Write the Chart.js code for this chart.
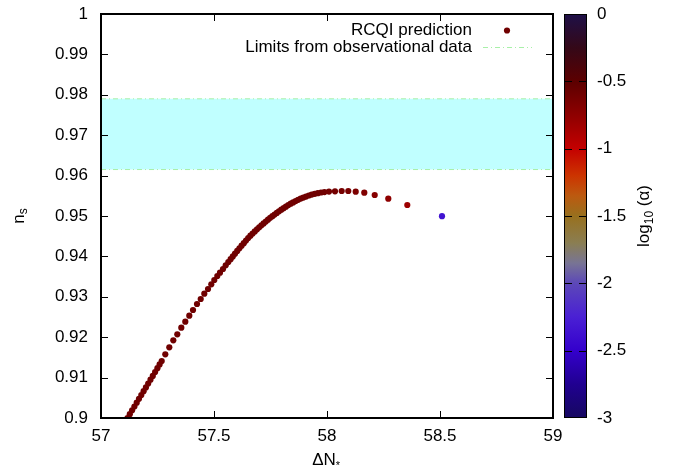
<!DOCTYPE html>
<html lang="en">
<head>
<meta charset="UTF-8">
<title>RCQI prediction: n_s vs Delta N</title>
<script src="https://cdn.jsdelivr.net/npm/chart.js"></script>
<style>
  html, body { margin: 0; padding: 0; background: #ffffff; }
  #wrap { width: 675px; height: 467px; }
</style>
</head>
<body>
<div id="wrap"><canvas id="nsChart" width="675" height="467"></canvas></div>
<script>
// Delta N_* (x), n_s (y), log10(alpha) (colour)
const deltaN = [
  57.1173, 57.1274, 57.1376, 57.1478, 57.1580, 57.1681, 57.1783, 57.1885, 57.1987, 57.2088,
  57.2190, 57.2292, 57.2394, 57.2496, 57.2593, 57.2686, 57.2845, 57.3022, 57.3199, 57.3376,
  57.3553, 57.3730, 57.3907, 57.4071, 57.4248, 57.4412, 57.4571, 57.4735, 57.4881, 57.5013,
  57.5146, 57.5265, 57.5398, 57.5518, 57.5633, 57.5735, 57.5832, 57.5929, 57.6027, 57.6124,
  57.6221, 57.6319, 57.6416, 57.6513, 57.6611, 57.6708, 57.6805, 57.6903, 57.7000, 57.7097,
  57.7195, 57.7292, 57.7389, 57.7487, 57.7584, 57.7681, 57.7779, 57.7876, 57.7978, 57.8080,
  57.8181, 57.8288, 57.8394, 57.8500, 57.8611, 57.8721, 57.8836, 57.8951, 57.9071, 57.9195,
  57.9323, 57.9456, 57.9593, 57.9735, 57.9885, 58.0088, 58.0354, 58.0650, 58.0942, 58.1270,
  58.1650, 58.2111, 58.2712, 58.3553, 58.5088
];
const nsValues = [
  0.90000, 0.90094, 0.90190, 0.90285, 0.90379, 0.90475, 0.90569, 0.90663, 0.90757, 0.90854,
  0.90948, 0.91042, 0.91136, 0.91233, 0.91327, 0.91411, 0.91577, 0.91750, 0.91923, 0.92072,
  0.92235, 0.92384, 0.92532, 0.92673, 0.92822, 0.92946, 0.93077, 0.93193, 0.93309, 0.93416,
  0.93515, 0.93597, 0.93688, 0.93780, 0.93861, 0.93932, 0.94000, 0.94067, 0.94135, 0.94202,
  0.94266, 0.94328, 0.94391, 0.94454, 0.94514, 0.94566, 0.94618, 0.94670, 0.94721, 0.94770,
  0.94816, 0.94862, 0.94908, 0.94954, 0.94995, 0.95036, 0.95077, 0.95118, 0.95157, 0.95194,
  0.95231, 0.95270, 0.95306, 0.95337, 0.95369, 0.95401, 0.95432, 0.95457, 0.95482, 0.95508,
  0.95530, 0.95548, 0.95566, 0.95582, 0.95591, 0.95604, 0.95611, 0.95619, 0.95619, 0.95601,
  0.95577, 0.95520, 0.95428, 0.95272, 0.94995
];
const logAlpha = [
  -0.6, -0.6, -0.6, -0.6, -0.6, -0.6, -0.6, -0.6, -0.6, -0.6,
  -0.6, -0.6, -0.6, -0.6, -0.6, -0.6, -0.6, -0.6, -0.6, -0.6,
  -0.6, -0.6, -0.6, -0.6, -0.6, -0.6, -0.6, -0.6, -0.6, -0.6,
  -0.6, -0.6, -0.6, -0.6, -0.6, -0.6, -0.6, -0.6, -0.6, -0.6,
  -0.6, -0.6, -0.6, -0.6, -0.6, -0.6, -0.6, -0.6, -0.6, -0.6,
  -0.6, -0.6, -0.6, -0.6, -0.6, -0.6, -0.6, -0.6, -0.6, -0.6,
  -0.6, -0.6, -0.6, -0.6, -0.6, -0.6, -0.6, -0.6, -0.6, -0.6,
  -0.6, -0.6, -0.6, -0.6, -0.6, -0.61, -0.62, -0.63, -0.64, -0.66,
  -0.68, -0.71, -0.75, -0.82, -2.35
];
// observational band on n_s
const nsLimits = [0.9615, 0.9790];
const xRange = [57, 59];
const yRange = [0.9, 1.0];
const cbRange = [-3, 0];

// colour palette of the colour box (value -> colour)
const palette = [
  [0, '#1e1048'], [-0.25, '#340818'], [-0.5, '#5c0000'], [-0.75, '#8e0000'],
  [-1.0, '#c40000'], [-1.2, '#cc3400'], [-1.35, '#bc5a10'], [-1.5, '#98701e'],
  [-1.7, '#8a7e52'], [-1.85, '#787494'], [-2.0, '#5c48b8'], [-2.25, '#4a20d4'],
  [-2.5, '#3400cc'], [-2.75, '#200090'], [-3.0, '#160860']
];

function hexRgb(h) {
  return [parseInt(h.substr(1, 2), 16), parseInt(h.substr(3, 2), 16), parseInt(h.substr(5, 2), 16)];
}
function paletteColor(v) {
  for (let i = 0; i < palette.length - 1; i++) {
    const [v0, c0] = palette[i], [v1, c1] = palette[i + 1];
    if (v <= v0 && v >= v1) {
      const t = (v0 - v) / (v0 - v1);
      const a = hexRgb(c0), b = hexRgb(c1);
      return 'rgb(' + a.map((x, k) => Math.round(x + (b[k] - x) * t)).join(',') + ')';
    }
  }
  return palette[palette.length - 1][1];
}

const FONT = 'Liberation Sans, Arial, sans-serif';
const FS = 17;
const limitColor = '#a8f0a8';
const bandColor = '#c0ffff';

const points = deltaN.map((x, i) => ({ x: x, y: nsValues[i] }));

// no extra room for half-height tick labels: plot box is fixed
function noPad(s) {
  s.paddingTop = 0; s.paddingBottom = 0; s.paddingLeft = 0; s.paddingRight = 0;
}

const decor = {
  id: 'decor',
  afterDraw(chart) {
    const { ctx, chartArea: a, scales } = chart;
    ctx.save();
    // plot frame
    ctx.strokeStyle = '#000';
    ctx.lineWidth = 2;
    ctx.strokeRect(a.left, a.top, a.right - a.left, a.bottom - a.top);
    // inward ticks, all four sides
    ctx.lineWidth = 1;
    ctx.beginPath();
    scales.x.ticks.forEach(t => {
      const px = Math.round(scales.x.getPixelForValue(t.value)) + 0.5;
      ctx.moveTo(px, a.bottom); ctx.lineTo(px, a.bottom - 7);
      ctx.moveTo(px, a.top); ctx.lineTo(px, a.top + 7);
    });
    scales.y.ticks.forEach(t => {
      const py = Math.round(scales.y.getPixelForValue(t.value)) + 0.5;
      ctx.moveTo(a.left, py); ctx.lineTo(a.left + 7, py);
      ctx.moveTo(a.right, py); ctx.lineTo(a.right - 7, py);
    });
    ctx.stroke();

    // colour box
    const cb = scales.cb;
    const top = cb.getPixelForValue(cbRange[1]);
    const bot = cb.getPixelForValue(cbRange[0]);
    const bx = a.right + 11, bw = 23;
    const g = ctx.createLinearGradient(0, top, 0, bot);
    palette.forEach(([v, c]) => g.addColorStop((cbRange[1] - v) / (cbRange[1] - cbRange[0]), c));
    ctx.fillStyle = g;
    ctx.fillRect(bx, top, bw, bot - top);
    ctx.strokeStyle = '#000';
    ctx.lineWidth = 1;
    ctx.strokeRect(bx + 0.5, top + 0.5, bw - 1, bot - top - 1);
    ctx.beginPath();
    cb.ticks.forEach(t => {
      if (t.value <= cbRange[0] || t.value >= cbRange[1]) return;
      const py = Math.round(cb.getPixelForValue(t.value)) + 0.5;
      ctx.moveTo(bx, py); ctx.lineTo(bx + 8, py);
      ctx.moveTo(bx + bw, py); ctx.lineTo(bx + bw - 8, py);
    });
    ctx.stroke();

    // legend
    ctx.fillStyle = '#000';
    ctx.font = FS + 'px ' + FONT;
    ctx.textAlign = 'right';
    ctx.textBaseline = 'middle';
    ctx.fillText('RCQI prediction', 472, 30);
    ctx.fillText('Limits from observational data', 472, 47);
    ctx.fillStyle = paletteColor(-0.6);
    ctx.beginPath();
    ctx.arc(507, 30.5, 3.1, 0, Math.PI * 2);
    ctx.fill();
    ctx.strokeStyle = limitColor;
    ctx.setLineDash([5, 3, 1, 3]);
    ctx.beginPath();
    ctx.moveTo(483, 47.5); ctx.lineTo(532, 47.5);
    ctx.stroke();
    ctx.setLineDash([]);

    // axis titles
    ctx.fillStyle = '#000';
    ctx.textBaseline = 'alphabetic';
    ctx.textAlign = 'left';
    // x title: Delta N_*
    ctx.font = FS + 'px ' + FONT;
    const w1 = ctx.measureText('\u0394N').width;
    const xt = 327 - (w1 + 6) / 2;
    ctx.fillText('\u0394N', xt, 465);
    ctx.font = '11px ' + FONT;
    ctx.fillText('*', xt + w1, 469);

    // y title: n_s
    ctx.save();
    ctx.translate(24, 216);
    ctx.rotate(-Math.PI / 2);
    ctx.font = FS + 'px ' + FONT;
    const wn = ctx.measureText('n').width;
    ctx.fillText('n', -(wn + 6) / 2, 0);
    ctx.font = '12px ' + FONT;
    ctx.fillText('s', -(wn + 6) / 2 + wn, 3);
    ctx.restore();

    // colour box title: log10 (alpha)
    ctx.save();
    ctx.translate(649, 216);
    ctx.rotate(-Math.PI / 2);
    ctx.font = FS + 'px ' + FONT;
    const wl = ctx.measureText('log').width;
    const wr = ctx.measureText(' (\u03b1)').width;
    ctx.font = '12px ' + FONT;
    const ws = ctx.measureText('10').width;
    let tx = -(wl + ws + wr) / 2;
    ctx.font = FS + 'px ' + FONT;
    ctx.fillText('log', tx, 0);
    ctx.font = '12px ' + FONT;
    ctx.fillText('10', tx + wl, 4);
    ctx.font = FS + 'px ' + FONT;
    ctx.fillText(' (\u03b1)', tx + wl + ws, 0);
    ctx.restore();

    ctx.restore();
  }
};

Chart.defaults.font.family = FONT;
Chart.defaults.font.size = FS;
Chart.defaults.color = '#000';

new Chart(document.getElementById('nsChart'), {
  type: 'scatter',
  data: {
    datasets: [
      {
        label: 'RCQI prediction',
        data: points,
        pointRadius: 3.1,
        pointBorderWidth: 0,
        pointBackgroundColor: logAlpha.map(paletteColor),
        showLine: false
      },
      {
        label: 'upper limit',
        type: 'line',
        data: [{ x: xRange[0], y: nsLimits[1] }, { x: xRange[1], y: nsLimits[1] }],
        borderColor: limitColor,
        borderWidth: 1,
        borderDash: [5, 3, 1, 3],
        pointRadius: 0,
        fill: false
      },
      {
        label: 'Limits from observational data',
        type: 'line',
        data: [{ x: xRange[0], y: nsLimits[0] }, { x: xRange[1], y: nsLimits[0] }],
        borderColor: limitColor,
        borderWidth: 1,
        borderDash: [5, 3, 1, 3],
        backgroundColor: bandColor,
        pointRadius: 0,
        fill: '-1'
      }
    ]
  },
  options: {
    responsive: false,
    animation: false,
    events: [],
    layout: { padding: { top: 14, left: 0, right: 0, bottom: 0 } },
    plugins: { legend: { display: false }, tooltip: { enabled: false } },
    scales: {
      x: {
        type: 'linear',
        min: xRange[0], max: xRange[1],
        grid: { display: false, drawTicks: false },
        border: { display: false },
        ticks: { stepSize: 0.5, padding: 8, maxRotation: 0, autoSkip: false,
                 callback: v => String(+v.toFixed(1)) },
        afterFit: s => { s.height = 49; noPad(s); }
      },
      y: {
        type: 'linear',
        position: 'left',
        min: yRange[0], max: yRange[1],
        grid: { display: false, drawTicks: false },
        border: { display: false },
        ticks: { stepSize: 0.01, padding: 13, autoSkip: false,
                 callback: v => String(+v.toFixed(2)) },
        afterFit: s => { s.width = 101; noPad(s); }
      },
      cb: {
        type: 'linear',
        position: 'right',
        min: cbRange[0], max: cbRange[1],
        grid: { display: true, drawOnChartArea: false, drawTicks: true, tickLength: 40, color: 'rgba(0,0,0,0)' },
        border: { display: false },
        ticks: { stepSize: 0.5, padding: 4, autoSkip: false,
                 callback: v => String(+v.toFixed(1)) },
        afterFit: s => { s.width = 122; noPad(s); }
      }
    }
  },
  plugins: [decor]
});
</script>
</body>
</html>
